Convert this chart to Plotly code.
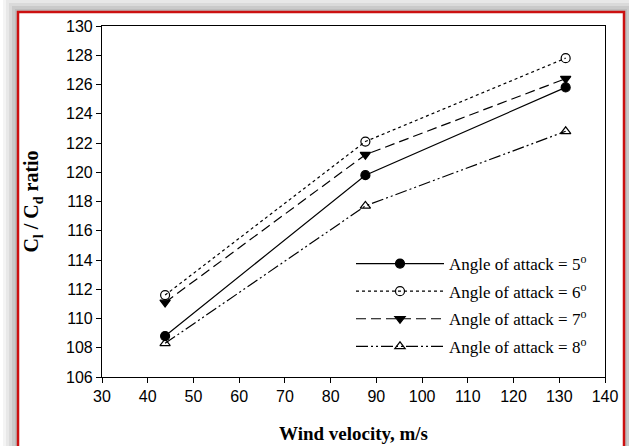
import plotly.graph_objects as go

velocity = [43.8, 87.6, 131.4]
aoa5 = [108.8, 119.8, 125.8]
aoa6 = [111.6, 122.1, 127.8]
aoa7 = [111.1, 121.2, 126.4]
aoa8 = [108.3, 117.7, 122.8]
names = ["Angle of attack = 5<sup>o</sup>", "Angle of attack = 6<sup>o</sup>",
         "Angle of attack = 7<sup>o</sup>", "Angle of attack = 8<sup>o</sup>"]

styles = [
    dict(dash="solid", symbol="circle"),
    dict(dash="dot", symbol="circle-open"),
    dict(dash="10px,5px", symbol="triangle-down"),
    dict(dash="12px,3px,2px,3px,2px,3px", symbol="triangle-up-open"),
]

fig = go.Figure()
for i, (vals, nm, st) in enumerate(zip([aoa5, aoa6, aoa7, aoa8], names, styles)):
    fig.add_trace(go.Scatter(
        x=velocity, y=vals, name=nm, mode="lines+markers", legendgroup=f"g{i}",
        line=dict(color="black", width=1.2, dash=st["dash"]),
        marker=dict(symbol=st["symbol"], size=9, color="black",
                    line=dict(color="black", width=1.2)),
    ))

L, R, T, B = 102, 24, 26, 69
W, H = 629, 446
pw, ph = W - L - R, H - T - B

def px(x):
    return (x - L) / pw

def py(y):
    return (H - B - y) / ph

shapes = []
# shadow gradient (lighter far from frame, darker close to it)
for i, c in enumerate(["#f4f4f4", "#e8e8e8", "#dadada", "#cacaca", "#bdbdbd"]):
    off = 15 - i * 3
    shapes.append(dict(type="rect", xref="paper", yref="paper", layer="below",
                       x0=px(18 - off), x1=px(624 + off), y0=py(12 - off), y1=py(470),
                       fillcolor=c, line=dict(width=0)))
shapes.append(dict(type="rect", xref="paper", yref="paper", layer="below",
                   x0=px(18), x1=px(624), y0=py(12), y1=py(470),
                   fillcolor="white", line=dict(color="#cc1111", width=2.5)))

fig.update_layout(
    width=W, height=H,
    margin=dict(l=L, r=R, t=T, b=B),
    paper_bgcolor="white", plot_bgcolor="white",
    shapes=shapes,
    showlegend=True,
    legend=dict(x=px(351), y=py(246), xanchor="left", yanchor="top",
                bgcolor="rgba(0,0,0,0)", itemwidth=88,
                font=dict(family="Liberation Serif, Times New Roman, serif", size=17, color="black"),
                tracegroupgap=2.5),
    xaxis=dict(range=[30, 140], dtick=10, tick0=30, showgrid=False, zeroline=False,
               showline=True, linecolor="black", linewidth=1.2, mirror=True,
               ticks="outside", ticklen=5, tickcolor="black", automargin=False,
               tickfont=dict(family="Liberation Sans, Arial", size=16, color="black"),
               title=dict(text="<b>Wind velocity, m/s</b>", standoff=22,
                          font=dict(family="Liberation Serif, Times New Roman, serif", size=19, color="black"))),
    yaxis=dict(range=[106, 130], dtick=2, showgrid=False, zeroline=False,
               showline=True, linecolor="black", linewidth=1.2, mirror=True,
               ticks="outside", ticklen=5, tickcolor="black", automargin=False,
               tickfont=dict(family="Liberation Sans, Arial", size=16, color="black"),
               title=dict(text="<b>C<sub>l</sub> / C<sub>d</sub> ratio</b>", standoff=21,
                          font=dict(family="Liberation Serif, Times New Roman, serif", size=20, color="black"))),
)

fig.write_html("out.html", config={"displayModeBar": False},
               post_script="document.body.style.margin='0';document.body.style.overflow='hidden';")
